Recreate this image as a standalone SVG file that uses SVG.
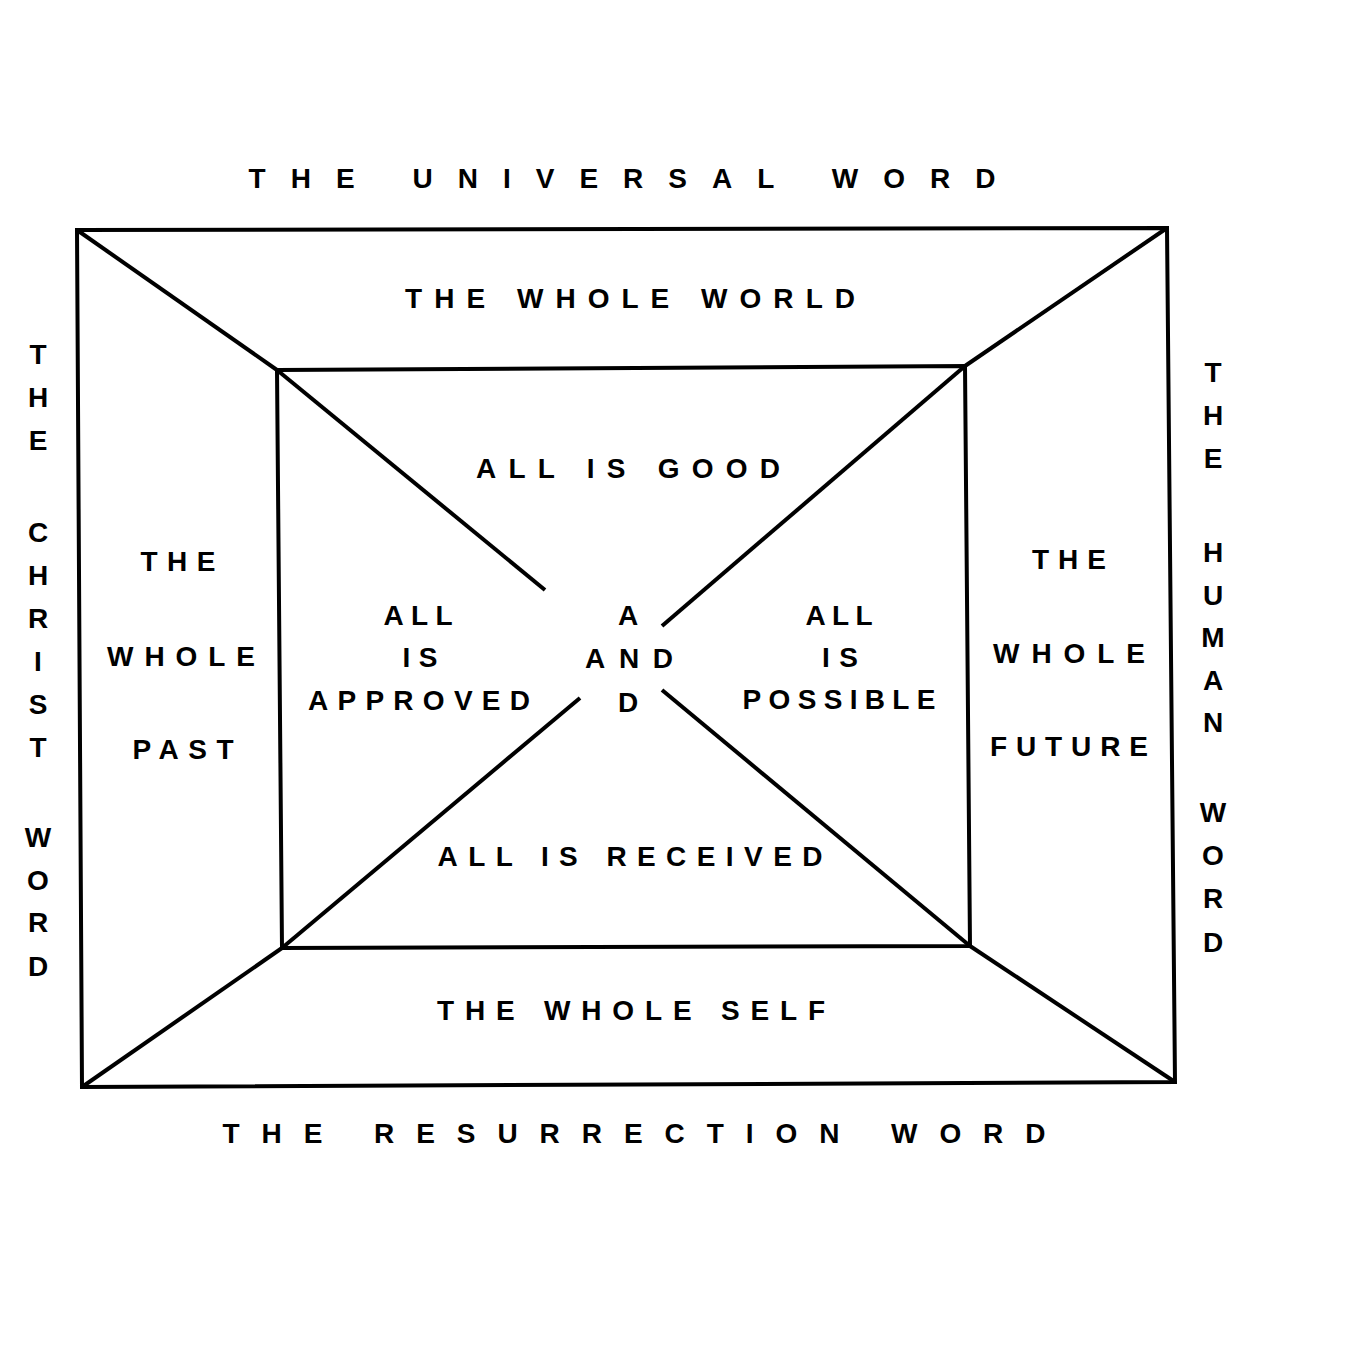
<svg xmlns="http://www.w3.org/2000/svg" width="1350" height="1350" viewBox="0 0 1350 1350">
<style>
.l{stroke:#000;stroke-width:4;fill:none}
.t{font-family:"Liberation Sans",Arial,sans-serif;font-weight:bold;font-size:28px;fill:#000;text-anchor:middle}
</style>
<rect width="1350" height="1350" fill="#fff"/>
<g id="connectors">
<polygon class="l" points="77,230 1167,228 1175,1082 82,1087"/>
<polygon class="l" points="277,370 965,366 970,946 282,948"/>
<line class="l" x1="77" y1="230" x2="277" y2="370"/>
<line class="l" x1="1167" y1="228" x2="965" y2="366"/>
<line class="l" x1="1175" y1="1082" x2="970" y2="946"/>
<line class="l" x1="82" y1="1087" x2="282" y2="948"/>
<line class="l" x1="277" y1="370" x2="545" y2="590"/>
<line class="l" x1="965" y1="366" x2="662" y2="626"/>
<line class="l" x1="282" y1="948" x2="580" y2="698"/>
<line class="l" x1="970" y1="946" x2="662" y2="690"/>
</g>
<g id="top"><text class="t" x="622" y="188" textLength="747" lengthAdjust="spacing">THE   UNIVERSAL   WORD</text></g>
<g id="bottom"><text class="t" x="634" y="1143" textLength="823" lengthAdjust="spacing">THE   RESURRECTION   WORD</text></g>
<g id="whole-world"><text class="t" x="630" y="308" textLength="450" lengthAdjust="spacing">THE  WHOLE  WORLD</text></g>
<g id="whole-self"><text class="t" x="631" y="1020" textLength="388" lengthAdjust="spacing">THE  WHOLE  SELF</text></g>
<g id="good"><text class="t" x="628" y="478" textLength="304" lengthAdjust="spacing">ALL  IS  GOOD</text></g>
<g id="received"><text class="t" x="630" y="866" textLength="385" lengthAdjust="spacing">ALL  IS  RECEIVED</text></g>
<g id="past" class="t"><text x="178" y="571" textLength="75" lengthAdjust="spacing">THE</text><text x="181" y="666" textLength="148" lengthAdjust="spacing">WHOLE</text><text x="183" y="759" textLength="101" lengthAdjust="spacing">PAST</text></g>
<g id="future" class="t"><text x="1069" y="569" textLength="74" lengthAdjust="spacing">THE</text><text x="1069" y="663" textLength="152" lengthAdjust="spacing">WHOLE</text><text x="1069" y="756" textLength="158" lengthAdjust="spacing">FUTURE</text></g>
<g id="approved" class="t"><text x="418" y="625" textLength="69" lengthAdjust="spacing">ALL</text><text x="420" y="667" textLength="35" lengthAdjust="spacing">IS</text><text x="419" y="710" textLength="222" lengthAdjust="spacing">APPROVED</text></g>
<g id="possible" class="t"><text x="839" y="625" textLength="67" lengthAdjust="spacing">ALL</text><text x="840" y="667" textLength="36" lengthAdjust="spacing">IS</text><text x="839" y="709" textLength="193" lengthAdjust="spacing">POSSIBLE</text></g>
<g id="center" class="t"><text x="628" y="625">A</text><text x="629" y="668" textLength="88" lengthAdjust="spacing">AND</text><text x="628" y="712">D</text></g>
<g id="left" class="t"><text x="38" y="364">T</text><text x="38" y="407">H</text><text x="38" y="450">E</text><text x="38" y="542">C</text><text x="38" y="585">H</text><text x="38" y="628">R</text><text x="38" y="671">I</text><text x="38" y="714">S</text><text x="38" y="757">T</text><text x="38" y="847">W</text><text x="38" y="890">O</text><text x="38" y="932">R</text><text x="38" y="976">D</text></g>
<g id="right" class="t"><text x="1213" y="382">T</text><text x="1213" y="425">H</text><text x="1213" y="468">E</text><text x="1213" y="562">H</text><text x="1213" y="605">U</text><text x="1213" y="647">M</text><text x="1213" y="690">A</text><text x="1213" y="732">N</text><text x="1213" y="822">W</text><text x="1213" y="865">O</text><text x="1213" y="908">R</text><text x="1213" y="952">D</text></g>
</svg>
